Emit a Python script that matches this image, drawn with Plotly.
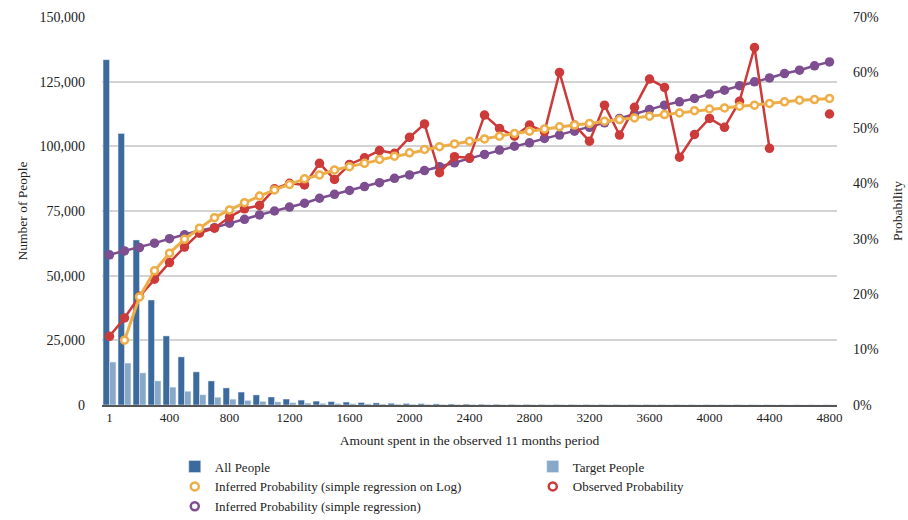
import plotly.graph_objects as go

categories = ["1"] + [str(v) for v in range(100, 4900, 100)]
tick_labels = ["1", "400", "800", "1200", "1600", "2000", "2400", "2800", "3200", "3600", "4000", "4400", "4800"]
tick_values = ["1", "400", "800", "1200", "1600", "2000", "2400", "2800", "3200", "3600", "4000", "4400", "4800"]

all_people = [133500, 105000, 63800, 40600, 26700, 18600, 12800, 9300, 6600, 5000,
              3900, 3100, 2300, 1900, 1500, 1300, 1150, 950, 800, 650,
              560, 480, 420, 370, 330, 290, 260, 230, 210, 190,
              170, 160, 150, 140, 130, 120, 110, 105, 100, 95,
              90, 85, 80, 75, 70, 65, 60, 55, 50]
target_people = [16600, 16200, 12400, 9300, 6900, 5300, 3950, 3000, 2250, 1780,
                 1400, 1200, 920, 750, 650, 530, 500, 420, 370, 300,
                 270, 240, 180, 170, 150, 150, 130, 110, 105, 95,
                 100, 80, 70, 75, 63, 64, 65, 60, 45, 46,
                 46, 43, 44, 48, 32, 0, 0, 0, 26]
inferred_log = [None, 11.7, 19.5, 24.2, 27.4, 29.9, 31.9, 33.8, 35.2, 36.5,
                37.7, 38.8, 39.8, 40.8, 41.5, 42.4, 43.0, 43.6, 44.3, 44.9,
                45.5, 46.1, 46.6, 47.1, 47.6, 48.0, 48.5, 49.0, 49.4, 49.8,
                50.2, 50.5, 50.8, 51.2, 51.5, 51.8, 52.1, 52.4, 52.7, 53.1,
                53.4, 53.6, 53.9, 54.1, 54.4, 54.7, 55.0, 55.1, 55.3]
observed = [12.4, 15.7, 19.6, 22.7, 25.7, 28.5, 31.0, 31.9, 33.9, 35.4,
            36.0, 39.0, 40.0, 39.7, 43.6, 40.7, 43.4, 44.6, 45.9, 45.4,
            48.3, 50.7, 41.9, 44.8, 44.6, 52.3, 49.9, 48.5, 50.5, 49.3,
            60.0, 50.5, 47.6, 54.1, 48.7, 53.7, 58.8, 57.3, 44.7, 48.8,
            51.7, 50.1, 54.8, 64.5, 46.3, None, None, None, 52.5]
inferred_simple = [27.1, 27.8, 28.4, 29.2, 30.0, 30.7, 31.5, 32.0, 32.8, 33.5,
                   34.3, 35.0, 35.7, 36.4, 37.3, 38.0, 38.7, 39.4, 40.1, 40.9,
                   41.5, 42.3, 43.0, 43.7, 44.5, 45.2, 46.0, 46.7, 47.3, 48.1,
                   48.7, 49.4, 50.1, 50.9, 51.7, 52.5, 53.3, 54.1, 54.7, 55.3,
                   56.1, 56.8, 57.6, 58.3, 59.0, 59.8, 60.4, 61.2, 61.9]

BLUE = "#3c6a9c"
LIGHT = "#88a8c8"
ORANGE = "#eeae47"
RED = "#cc3a3a"
PURPLE = "#7d4e90"
FONT = "Liberation Serif"

fig = go.Figure()
fig.add_trace(go.Bar(x=categories, y=all_people, name="All People", marker_color=BLUE, yaxis="y"))
fig.add_trace(go.Bar(x=categories, y=target_people, name="Target People", marker_color=LIGHT, yaxis="y"))

# drawn lines (legend handled by marker-only entries)
fig.add_trace(go.Scatter(x=categories, y=inferred_simple, mode="lines+markers", yaxis="y2",
                         line=dict(color=PURPLE, width=2.5),
                         marker=dict(size=9.5, color=PURPLE), showlegend=False))
fig.add_trace(go.Scatter(x=categories, y=observed, mode="lines+markers", yaxis="y2",
                         connectgaps=False,
                         line=dict(color=RED, width=2.5),
                         marker=dict(size=9.5, color=RED), showlegend=False))
fig.add_trace(go.Scatter(x=categories, y=inferred_log, mode="lines+markers", yaxis="y2",
                         line=dict(color=ORANGE, width=3),
                         marker=dict(size=7, color="white", line=dict(color=ORANGE, width=2.5)),
                         showlegend=False))

# legend entries
for name, col in [("Inferred Probability (simple regression on Log)", ORANGE),
                  ("Observed Probability", RED),
                  ("Inferred Probability (simple regression)", PURPLE)]:
    fig.add_trace(go.Scatter(x=[None], y=[None], mode="markers", name=name, yaxis="y2",
                             marker=dict(size=8, color="white", line=dict(color=col, width=2.5))))

fig.update_layout(
    width=908, height=520,
    margin=dict(l=102, r=71, t=17, b=115, autoexpand=False),
    paper_bgcolor="white", plot_bgcolor="white",
    font=dict(family=FONT, size=13, color="#222"),
    barmode="group", bargap=0.14, bargroupgap=0,
    showlegend=True,
    legend=dict(orientation="h", x=0.099, xanchor="left", y=-0.12, yanchor="top",
                entrywidth=313, entrywidthmode="pixels",
                font=dict(family=FONT, size=13, color="#222"),
                tracegroupgap=0, bgcolor="rgba(0,0,0,0)"),
    xaxis=dict(type="category", categoryorder="array", categoryarray=categories,
               range=[-0.5, len(categories) - 0.5], automargin=False,
               tickmode="array", tickvals=tick_values, ticktext=tick_labels,
               showgrid=False, showline=True, linecolor="#555", linewidth=1.5,
               ticks="", tickfont=dict(size=13),
               title=dict(text="Amount spent in the observed 11 months period", standoff=11,
                          font=dict(size=13.5))),
    yaxis=dict(range=[0, 150000], dtick=25000, tickformat=",", showgrid=True,
               gridcolor="#d3d3d3", gridwidth=1.5, zeroline=False, ticks="",
               tickfont=dict(size=14), ticklabelstandoff=16, automargin=False,
               title=dict(text="Number of People", standoff=8, font=dict(size=13.5))),
    yaxis2=dict(range=[0, 70], dtick=10, ticksuffix="%", overlaying="y", side="right",
                showgrid=False, zeroline=False, ticks="", tickfont=dict(size=14),
                ticklabelstandoff=15, automargin=False,
                title=dict(text="Probability", standoff=14, font=dict(size=13.5))),
)

fig.write_html("out.html")
